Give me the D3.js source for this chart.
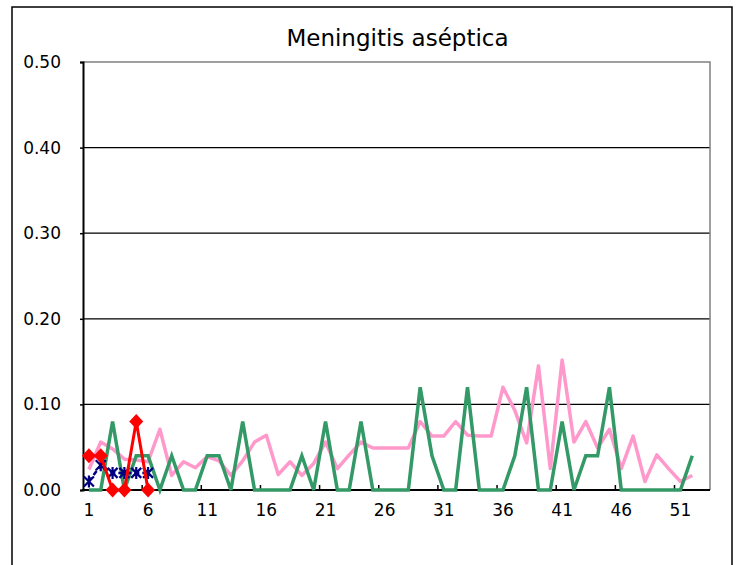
<!DOCTYPE html>
<html>
<head>
<meta charset="utf-8">
<script src="https://cdn.jsdelivr.net/npm/d3@7"></script>
<style>
  body { margin: 0; background: #fff; }
  text { font-family: "Century Gothic", "DejaVu Sans", sans-serif; fill: #000; }
</style>
</head>
<body>
<svg id="chart" width="741" height="565"></svg>
<script>
// weeks 1..53 on the category axis (week 53 empty)
var weeks = d3.range(1, 54);
var weekLabels = [1, 6, 11, 16, 21, 26, 31, 36, 41, 46, 51];
var yTicks = [0, 0.1, 0.2, 0.3, 0.4, 0.5];

// pink: average rate
var avgRate = [0.024, 0.056, 0.048, 0.036, 0.035, 0.033, 0.071, 0.017, 0.033, 0.026,
    0.039, 0.034, 0.017, 0.034, 0.056, 0.064, 0.018, 0.033, 0.017, 0.031,
    0.056, 0.025, 0.041, 0.056, 0.049, 0.049, 0.049, 0.049, 0.080, 0.063,
    0.063, 0.080, 0.064, 0.063, 0.063, 0.120, 0.093, 0.055, 0.145, 0.025,
    0.152, 0.056, 0.080, 0.049, 0.071, 0.025, 0.063, 0.010, 0.041, 0.025,
    0.010, 0.017];
// green: previous year
var prevYear = [0, 0, 0.08, 0, 0.04, 0.04, 0, 0.04, 0, 0,
    0.04, 0.04, 0, 0.08, 0, 0, 0, 0, 0.04, 0,
    0.08, 0, 0, 0.08, 0, 0, 0, 0, 0.12, 0.04,
    0, 0, 0.12, 0, 0, 0, 0.04, 0.12, 0, 0,
    0.08, 0, 0.04, 0.04, 0.12, 0, 0, 0, 0, 0,
    0, 0.04];
// navy: other series, first weeks
var otherYear = [0.010, 0.029, 0.020, 0.020, 0.020, 0.020];
// red: current year
var currYear = [0.04, 0.04, 0, 0, 0.08, 0];

var svg = d3.select("#chart");

var pLeft = 83, pRight = 710, pTop = 62, pBottom = 490;
var fontStack = "'Century Gothic', 'DejaVu Sans', sans-serif";

var x = d3.scaleBand()
    .domain(weeks)
    .range([pLeft, pRight]);

var y = d3.scaleLinear()
    .domain([0, 0.5])
    .range([pBottom, pTop]);

var cx = function(w) { return x(w) + x.bandwidth() / 2; };

// outer frame
svg.append("rect")
    .attr("x", 12).attr("y", 7)
    .attr("width", 720).attr("height", 570)
    .attr("fill", "none")
    .attr("stroke", "#000")
    .attr("stroke-width", 1.5);

// title
svg.append("text")
    .attr("x", (pLeft + pRight) / 2 + 1)
    .attr("y", 46)
    .attr("text-anchor", "middle")
    .style("font-size", "23px")
    .text("Meningitis aséptica");

// gridlines
svg.append("g")
    .selectAll("line")
    .data(yTicks.slice(1, 5))
    .enter().append("line")
    .attr("x1", pLeft).attr("x2", pRight)
    .attr("y1", function(d) { return y(d); })
    .attr("y2", function(d) { return y(d); })
    .attr("stroke", "#000")
    .attr("stroke-width", 1.2);

// plot border top / right
svg.append("path")
    .attr("d", "M" + pLeft + "," + pTop + "H" + pRight + "V" + pBottom)
    .attr("fill", "none")
    .attr("stroke", "#808080")
    .attr("stroke-width", 1.5);

// y axis
var yAxis = svg.append("g")
    .attr("transform", "translate(" + pLeft + ",0)")
    .call(d3.axisLeft(y).tickValues(yTicks).tickFormat(d3.format(".2f")).tickSize(3).tickPadding(19));
yAxis.select(".domain").attr("stroke", "#000").attr("stroke-width", 2);
yAxis.selectAll(".tick line").attr("stroke-width", 1.5);
yAxis.selectAll("text")
    .style("font-size", "17px")
    .style("font-family", fontStack);

// x axis labels
var xAxis = svg.append("g")
    .attr("transform", "translate(0," + pBottom + ")")
    .call(d3.axisBottom(x).tickValues(weekLabels).tickSize(0).tickPadding(14));
xAxis.select(".domain").remove();
xAxis.selectAll("text")
    .style("font-size", "17px")
    .style("font-family", fontStack);

// inner ticks at category boundaries
svg.append("g")
    .selectAll("line")
    .data(weekLabels.slice(1))
    .enter().append("line")
    .attr("x1", function(d) { return x(d); })
    .attr("x2", function(d) { return x(d); })
    .attr("y1", pBottom).attr("y2", pBottom - 5)
    .attr("stroke", "#000")
    .attr("stroke-width", 1.5);

svg.append("line")
    .attr("x1", pLeft - 1).attr("x2", pRight)
    .attr("y1", pBottom).attr("y2", pBottom)
    .attr("stroke", "#000")
    .attr("stroke-width", 2);

var line = d3.line()
    .x(function(d, i) { return cx(i + 1); })
    .y(function(d) { return y(d); });

svg.append("path")
    .datum(avgRate)
    .attr("d", line)
    .attr("fill", "none")
    .attr("stroke", "#ff99cc")
    .attr("stroke-width", 3.5)
    .attr("stroke-linejoin", "round");

svg.append("path")
    .datum(prevYear)
    .attr("d", line)
    .attr("fill", "none")
    .attr("stroke", "#339966")
    .attr("stroke-width", 3.5);

// navy dashed with asterisks
svg.append("path")
    .datum(otherYear)
    .attr("d", line)
    .attr("fill", "none")
    .attr("stroke", "#000080")
    .attr("stroke-width", 2.5)
    .attr("stroke-dasharray", "5,3");

var star = "M-5,-5L5,5M-5,5L5,-5M0,-6V6";
svg.append("g")
    .selectAll("path")
    .data(otherYear)
    .enter().append("path")
    .attr("transform", function(d, i) { return "translate(" + cx(i + 1) + "," + y(d) + ")"; })
    .attr("d", star)
    .attr("fill", "none")
    .attr("stroke", "#000080")
    .attr("stroke-width", 2.2);

// red with diamonds
svg.append("path")
    .datum(currYear)
    .attr("d", line)
    .attr("fill", "none")
    .attr("stroke", "#ff0000")
    .attr("stroke-width", 3);

var diamond = "M0,-7.5L7,0L0,7.5L-7,0Z";
svg.append("g")
    .selectAll("path")
    .data(currYear)
    .enter().append("path")
    .attr("transform", function(d, i) { return "translate(" + cx(i + 1) + "," + y(d) + ")"; })
    .attr("d", diamond)
    .attr("fill", "#ff0000");
</script>
</body>
</html>
